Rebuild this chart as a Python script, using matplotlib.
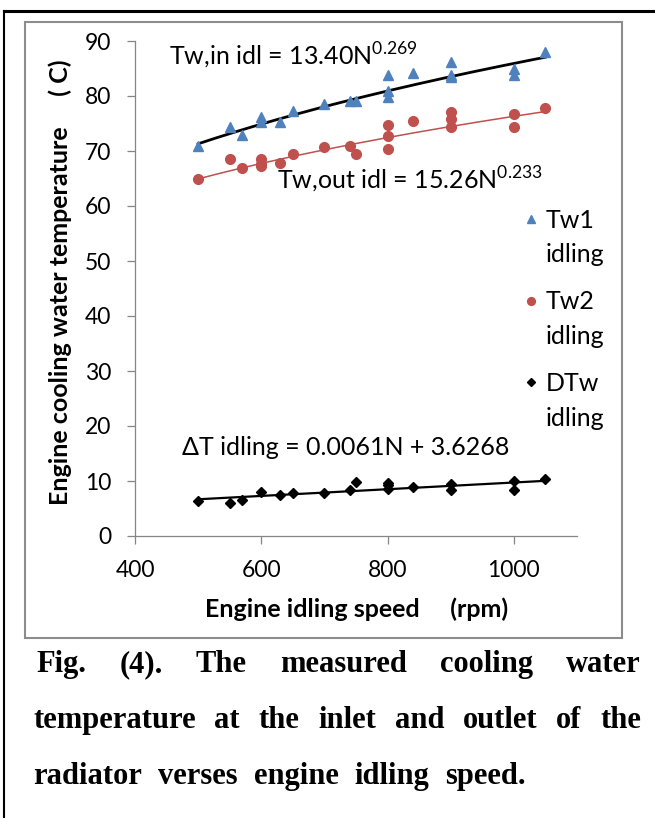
import numpy as np
import matplotlib.pyplot as plt
from matplotlib.lines import Line2D
from matplotlib.patches import Rectangle

plt.rcParams['font.family'] = ['Lato', 'DejaVu Sans']
plt.rcParams['mathtext.fontset'] = 'custom'
plt.rcParams['mathtext.rm'] = 'Lato'

# engine idling speed (rpm) and measured cooling water temperatures (C)
speed_tw1 = [500, 550, 570, 600, 600, 630, 650, 700, 740, 750,
             800, 800, 800, 840, 900, 900, 900, 1000, 1000, 1050]
tw1 = [71.0, 74.3, 73.0, 76.2, 75.3, 75.3, 77.3, 78.6, 79.1, 79.1,
       83.8, 81.0, 79.8, 84.1, 86.2, 83.9, 83.5, 85.0, 83.8, 88.0]

speed_tw2 = [500, 550, 570, 600, 600, 600, 630, 650, 700, 740, 750,
             800, 800, 800, 840, 900, 900, 900, 1000, 1000, 1050]
tw2 = [65.0, 68.5, 67.0, 68.6, 67.7, 67.3, 67.9, 69.4, 70.7, 70.9, 69.4,
       74.8, 72.7, 70.3, 75.4, 77.1, 75.9, 74.4, 76.7, 74.4, 77.8]

speed_dtw = [500, 550, 570, 600, 630, 650, 700, 740, 750,
             800, 800, 800, 840, 900, 900, 1000, 1000, 1050]
dtw = [6.3, 6.0, 6.5, 8.0, 7.5, 7.9, 7.9, 8.3, 9.9,
       9.7, 9.3, 8.5, 8.9, 9.4, 8.4, 10.0, 8.4, 10.4]

# trendline coefficients as printed on the chart
fit_in = (13.40, 0.269)
fit_out = (15.26, 0.233)
fit_dt = (0.0061, 3.6268)
fit_range = (500, 1050)

series_names = ['Tw1', 'Tw2', 'DTw']

caption = [
    ['Fig.', '(4).', 'The', 'measured', 'cooling', 'water'],
    ['temperature', 'at', 'the', 'inlet', 'and', 'outlet', 'of', 'the'],
    ['radiator', 'verses', 'engine', 'idling', 'speed.'],
]

W, H = 655, 818
fig = plt.figure(figsize=(W / 100, H / 100), dpi=100)
ax = fig.add_axes([135 / W, 1 - 536 / H, (577 - 135) / W, (536 - 41) / H])

blue = '#4F81BD'
red = '#C0504D'

n = np.linspace(fit_range[0], fit_range[1], 200)
ax.plot(n, fit_in[0] * n ** fit_in[1], color='black', lw=2.0, zorder=2)
ax.plot(n, fit_out[0] * n ** fit_out[1], color=red, lw=1.1, zorder=2)
ax.plot(n, fit_dt[0] * n + fit_dt[1], color='black', lw=1.6, zorder=2)

h1, = ax.plot(speed_tw1, tw1, '^', color=blue, ms=7.5, ls='none', zorder=3)
h2, = ax.plot(speed_tw2, tw2, 'o', color=red, ms=7, ls='none', zorder=3)
h3, = ax.plot(speed_dtw, dtw, 'D', color='black', ms=5.5, ls='none', zorder=3)

ax.set_xlim(400, 1100)
ax.set_ylim(0, 90)
ax.set_xticks([400, 600, 800, 1000])
ax.set_yticks(np.arange(0, 91, 10))
for s in ['top', 'right']:
    ax.spines[s].set_visible(False)
for s in ['left', 'bottom']:
    ax.spines[s].set_color('#868686')
    ax.spines[s].set_linewidth(0.9)
ax.tick_params(direction='out', length=6, width=0.9, color='#868686',
               labelsize=16.5, pad=11)

ax.set_xlabel('Engine idling speed     (rpm)', fontsize=18, fontweight='bold')
ax.xaxis.set_label_coords(0.502, -0.124)
ax.set_ylabel('Engine cooling water temperature     ( C)', fontsize=18,
              fontweight='bold')
ax.yaxis.set_label_coords(-0.142, 0.513)

ax.text(454, 85.6, 'Tw,in idl = 13.40N$^{\\mathrm{0.269}}$', fontsize=18)
ax.text(625, 63.0, 'Tw,out idl = 15.26N$^{\\mathrm{0.233}}$', fontsize=18)
ax.text(474, 14.7, '\u0394T idling = 0.0061N + 3.6268', fontsize=18)

leg = fig.legend([h1, h2, h3], series_names, loc='upper left',
                 bbox_to_anchor=(511 / W, 1 - 196 / H), frameon=False,
                 fontsize=18, handlelength=0.6, handletextpad=0.3,
                 labelspacing=2.35, borderpad=0, markerscale=0.8)

# chart frame and page border
fig.add_artist(Rectangle((25 / W, 1 - 638 / H), (622 - 25) / W, (638 - 22) / H,
                         transform=fig.transFigure, fill=False,
                         edgecolor='#8c8c8c', lw=1.5))
fig.add_artist(Line2D([4 / W, 1], [1 - 11 / H, 1 - 11 / H],
                      transform=fig.transFigure, color='black', lw=2.2))
fig.add_artist(Line2D([4 / W, 4 / W], [0, 1 - 11 / H],
                      transform=fig.transFigure, color='black', lw=1.5))

fig.canvas.draw()
r = fig.canvas.get_renderer()

# second line of each legend entry
for t in leg.get_texts():
    bb = t.get_window_extent(r)
    fig.text(bb.x0 / W, (bb.y1 - 35) / H, 'idling', fontsize=18, va='top')

# justified caption
cap_kw = dict(family='Liberation Serif', fontweight='bold', fontsize=22,
              va='baseline')


def justify(words, y, x0, x1):
    texts = [fig.text(0, y, w, **cap_kw) for w in words]
    widths = [t.get_window_extent(r).width / W for t in texts]
    gap = (x1 - x0 - sum(widths)) / (len(words) - 1)
    x = x0
    for t, w in zip(texts, widths):
        t.set_x(x)
        x += w + gap


justify(caption[0], 1 - 672 / H, 36 / W, 641 / W)
justify(caption[1], 1 - 728 / H, 33 / W, 641 / W)
justify(caption[2], 1 - 784 / H, 33 / W, 526 / W)

fig.savefig('out.png', dpi=100)
